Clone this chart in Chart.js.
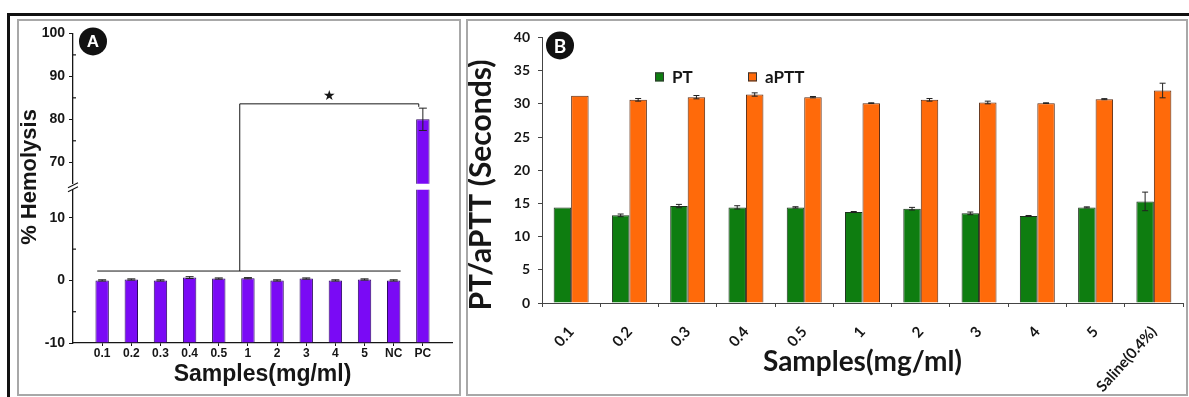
<!DOCTYPE html>
<html>
<head>
<meta charset="utf-8">
<script src="https://cdn.jsdelivr.net/npm/chart.js@4.4.1/dist/chart.umd.min.js"></script>
<style>
  html, body { margin: 0; padding: 0; background: #fff; }
  body { width: 1189px; height: 397px; position: relative; overflow: hidden; }
  .frame { position: absolute; left: 7px; top: 13px; width: 1182px; height: 384px; border-top: 3px solid #111; border-left: 3px solid #111; box-sizing: border-box; }
  .panel { position: absolute; border: 2px solid #a8a8a8; box-sizing: border-box; }
  canvas { position: absolute; }
</style>
</head>
<body>
<div class="frame"></div>
<div class="panel" style="left:17px;top:19px;width:444px;height:377px"></div>
<div class="panel" style="left:466px;top:19px;width:722px;height:377px"></div>
<canvas id="chartA" width="439" height="372" style="left:19px;top:21px"></canvas>
<canvas id="chartB" width="717" height="372" style="left:468px;top:21px"></canvas>
<script>
// panel A - hemolysis
const samplesA = ['0.1', '0.2', '0.3', '0.4', '0.5', '1', '2', '3', '4', '5', 'NC', 'PC'];
const hemolysis = [0, 0.15, 0, 0.45, 0.3, 0.35, 0, 0.3, 0, 0.15, 0, 80];
const hemolysisErr = [0.1, 0.1, 0.1, 0.15, 0.1, 0.1, 0.1, 0.1, 0.1, 0.1, 0.1, 2.6];
const ticksLowA = [-10, 0, 10];
const ticksHighA = [70, 80, 90, 100];

// panel B - PT / aPTT
const samplesB = ['0.1', '0.2', '0.3', '0.4', '0.5', '1', '2', '3', '4', '5', 'Saline(0.4%)'];
const pt = [14.4, 13.2, 14.6, 14.4, 14.4, 13.7, 14.2, 13.5, 13.1, 14.4, 15.3];
const ptErr = [0, 0.2, 0.25, 0.25, 0.1, 0.08, 0.2, 0.2, 0.08, 0.08, 1.4];
const aptt = [31.2, 30.6, 31.0, 31.4, 31.0, 30.1, 30.6, 30.2, 30.1, 30.7, 32.0];
const apttErr = [0, 0.2, 0.25, 0.25, 0.1, 0.05, 0.2, 0.2, 0.05, 0.08, 1.1];
const ticksB = [0, 5, 10, 15, 20, 25, 30, 35, 40];

// significance bracket of panel A, in data units
const bracketA = { left: -0.17, right: 10.24, split: 4.72, end: 10.86, low: 1.5, high: 83.6 };

const ink = '#161616';

const errorBars = {
  id: 'errorBars',
  afterDatasetsDraw(chart, args, opts) {
    const ctx = chart.ctx;
    chart.data.datasets.forEach((ds, i) => {
      if (!ds.errors) return;
      const meta = chart.getDatasetMeta(i);
      const ys = chart.scales[meta.yAxisID];
      ctx.save();
      ctx.beginPath();
      ctx.rect(chart.chartArea.left, ys.top - 6, chart.chartArea.width, ys.bottom - ys.top + 6);
      ctx.clip();
      ctx.strokeStyle = opts.color;
      ctx.lineWidth = 1;
      meta.data.forEach((bar, j) => {
        const e = ds.errors[j];
        if (!e) return;
        const top = ys.getPixelForValue(ds.data[j] + e);
        const bot = ys.getPixelForValue(ds.data[j] - e);
        ctx.beginPath();
        ctx.moveTo(bar.x, top); ctx.lineTo(bar.x, bot);
        ctx.moveTo(bar.x - opts.cap, top); ctx.lineTo(bar.x + opts.cap, top);
        ctx.moveTo(bar.x - opts.cap, bot); ctx.lineTo(bar.x + opts.cap, bot);
        ctx.stroke();
      });
      ctx.restore();
    });
  }
};

function badge(ctx, x, y, letter, font) {
  ctx.save();
  ctx.beginPath();
  ctx.arc(x, y, 14, 0, Math.PI * 2);
  ctx.fillStyle = '#111';
  ctx.fill();
  ctx.fillStyle = '#fff';
  ctx.font = font;
  ctx.textAlign = 'center';
  ctx.textBaseline = 'middle';
  ctx.fillText(letter, x, y + 1);
  ctx.restore();
}

function verticalTitle(ctx, text, x, y, font) {
  ctx.save();
  ctx.translate(x, y);
  ctx.rotate(-Math.PI / 2);
  ctx.font = font;
  ctx.fillStyle = ink;
  ctx.textAlign = 'center';
  ctx.textBaseline = 'middle';
  ctx.fillText(text, 0, 0);
  ctx.restore();
}

const hemolysisDecor = {
  id: 'hemolysisDecor',
  afterDraw(chart) {
    const { ctx, chartArea, scales: { x, y, y2 } } = chart;
    const ax = chartArea.left;
    ctx.save();
    ctx.strokeStyle = ink;
    ctx.lineWidth = 1.2;

    // minor ticks, inward, halfway between labelled ticks
    [y, y2].forEach(s => {
      for (let i = 1; i < s.ticks.length; i++) {
        const py = s.getPixelForValue((s.ticks[i - 1].value + s.ticks[i].value) / 2);
        ctx.beginPath(); ctx.moveTo(ax, py); ctx.lineTo(ax + 3, py); ctx.stroke();
      }
    });

    // axis break marks
    const cy = (y2.bottom + y.top) / 2;
    ctx.beginPath();
    ctx.moveTo(ax - 5, cy + 1); ctx.lineTo(ax + 5, cy - 4);
    ctx.moveTo(ax - 5, cy + 5); ctx.lineTo(ax + 5, cy);
    ctx.stroke();

    // significance bracket
    const b = bracketA;
    const yLow = y.getPixelForValue(b.low);
    const yHigh = y2.getPixelForValue(b.high);
    ctx.lineWidth = 1;
    ctx.beginPath();
    ctx.moveTo(x.getPixelForValue(b.left), yLow);
    ctx.lineTo(x.getPixelForValue(b.right), yLow);
    ctx.moveTo(x.getPixelForValue(b.split), yLow);
    ctx.lineTo(x.getPixelForValue(b.split), yHigh);
    ctx.lineTo(x.getPixelForValue(b.end), yHigh);
    ctx.lineTo(x.getPixelForValue(b.end), yHigh + 3);
    ctx.stroke();
    ctx.font = '14px "DejaVu Sans"';
    ctx.fillStyle = ink;
    ctx.textAlign = 'center';
    ctx.textBaseline = 'middle';
    ctx.fillText('\u2605', x.getPixelForValue((b.split + b.end) / 2), yHigh - 7);
    ctx.restore();

    verticalTitle(ctx, '% Hemolysis', 11, 156, 'bold 22px "Liberation Sans"');
    badge(ctx, chartArea.left + 20, chartArea.top + 8, 'A', 'bold 17px "Liberation Sans"');
  }
};

const coagDecor = {
  id: 'coagDecor',
  afterDraw(chart) {
    const { ctx, chartArea } = chart;
    const legendX = [113, 206];
    ctx.save();
    chart.data.datasets.forEach((ds, i) => {
      const bx = chartArea.left + legendX[i];
      const by = chartArea.top + 35;
      ctx.fillStyle = ds.backgroundColor;
      ctx.fillRect(bx, by, 9, 9);
      ctx.strokeStyle = '#333';
      ctx.lineWidth = 1;
      ctx.strokeRect(bx + 0.5, by + 0.5, 8, 8);
      ctx.fillStyle = ink;
      ctx.font = 'bold 17px Lato';
      ctx.textAlign = 'left';
      ctx.textBaseline = 'middle';
      ctx.fillText(ds.label, bx + 17, by + 5);
    });
    ctx.restore();
    verticalTitle(ctx, 'PT/aPTT (Seconds)', 13, 164, 'bold 30px Lato');
    badge(ctx, chartArea.left + 18, chartArea.top + 8, 'B', 'bold 19px Lato');
  }
};

const hemBar = {
  data: hemolysis,
  errors: hemolysisErr,
  backgroundColor: '#7a0af5',
  borderColor: '#2e0a62',
  borderWidth: 1,
  grouped: false,
  categoryPercentage: 0.46,
  barPercentage: 1,
  clip: 0
};

new Chart(document.getElementById('chartA'), {
  type: 'bar',
  data: {
    labels: samplesA.map((s, i) => i),
    datasets: [
      Object.assign({ label: '% Hemolysis', yAxisID: 'y', base: -10 }, hemBar),
      Object.assign({ label: '% Hemolysis (upper)', yAxisID: 'y2' }, hemBar)
    ]
  },
  options: {
    responsive: false,
    animation: false,
    layout: { padding: { left: 0, right: 6, top: 9, bottom: 0 } },
    plugins: {
      legend: { display: false },
      tooltip: { enabled: false },
      errorBars: { color: '#222', cap: 4 }
    },
    scales: {
      x: {
        type: 'linear',
        min: -1,
        max: 12,
        offset: false,
        afterBuildTicks: s => { s.ticks = samplesA.map((v, i) => ({ value: i })); },
        afterFit: s => { s.height = 50; },
        border: { color: ink, width: 1.3 },
        grid: { drawOnChartArea: false, offset: false, tickLength: 3, color: ink },
        ticks: {
          autoSkip: false, maxRotation: 0, padding: 0, color: ink,
          font: { family: 'Liberation Sans', size: 12, weight: 'bold' },
          callback: v => samplesA[v]
        },
        title: {
          display: true, text: 'Samples(mg/ml)', color: ink,
          font: { family: 'Liberation Sans', size: 23, weight: 'bold' },
          padding: { top: 0, bottom: 5 }
        }
      },
      y: {
        type: 'linear', position: 'left', stack: 'hem', stackWeight: 155,
        min: -10, max: 14.5,
        afterBuildTicks: s => { s.ticks = ticksLowA.map(v => ({ value: v })); },
        afterFit: s => { s.width = 54; },
        border: { color: ink, width: 1.3 },
        grid: { drawOnChartArea: false, tickLength: 4, color: ink },
        ticks: { padding: 4, color: ink, font: { family: 'Liberation Sans', size: 14, weight: 'bold' } }
      },
      yGap: {
        type: 'linear', position: 'left', stack: 'hem', stackWeight: 6,
        display: false, min: 0, max: 1
      },
      y2: {
        type: 'linear', position: 'left', stack: 'hem', stackWeight: 152,
        min: 65, max: 100,
        afterBuildTicks: s => { s.ticks = ticksHighA.map(v => ({ value: v })); },
        afterFit: s => { s.width = 54; },
        border: { color: ink, width: 1.3 },
        grid: { drawOnChartArea: false, tickLength: 4, color: ink },
        ticks: { padding: 4, color: ink, font: { family: 'Liberation Sans', size: 14, weight: 'bold' } }
      }
    }
  },
  plugins: [errorBars, hemolysisDecor]
});

new Chart(document.getElementById('chartB'), {
  type: 'bar',
  data: {
    labels: samplesB,
    datasets: [
      { label: 'PT', data: pt, errors: ptErr, backgroundColor: '#0e7d10', borderColor: '#1d331d', borderWidth: 1, categoryPercentage: 0.6, barPercentage: 1 },
      { label: 'aPTT', data: aptt, errors: apttErr, backgroundColor: '#ff6a0a', borderColor: '#5a2a10', borderWidth: 1, categoryPercentage: 0.6, barPercentage: 1 }
    ]
  },
  options: {
    responsive: false,
    animation: false,
    layout: { padding: { left: 0, right: 2, top: 11, bottom: 0 } },
    plugins: {
      legend: { display: false },
      tooltip: { enabled: false },
      errorBars: { color: '#222', cap: 3 }
    },
    scales: {
      x: {
        afterFit: s => { s.height = 90; },
        border: { color: '#444', width: 1 },
        grid: { drawOnChartArea: false, offset: true, tickLength: 4, color: '#444' },
        ticks: {
          autoSkip: false, minRotation: 48, maxRotation: 48, padding: 16, color: ink,
          font: { family: 'Lato', size: 15, weight: 'bold' }
        },
        title: {
          display: true, text: 'Samples(mg/ml)', color: ink,
          font: { family: 'Lato', size: 28, weight: 'bold' },
          padding: { top: 0, bottom: 14 }
        }
      },
      y: {
        min: 0, max: 40,
        afterBuildTicks: s => { s.ticks = ticksB.map(v => ({ value: v })); },
        afterFit: s => { s.width = 74; },
        border: { color: '#444', width: 1 },
        grid: { drawOnChartArea: false, tickLength: 4, color: '#444' },
        ticks: { padding: 8, color: ink, font: { family: 'Lato', size: 14, weight: 'bold' } }
      }
    }
  },
  plugins: [errorBars, coagDecor]
});
</script>
</body>
</html>
